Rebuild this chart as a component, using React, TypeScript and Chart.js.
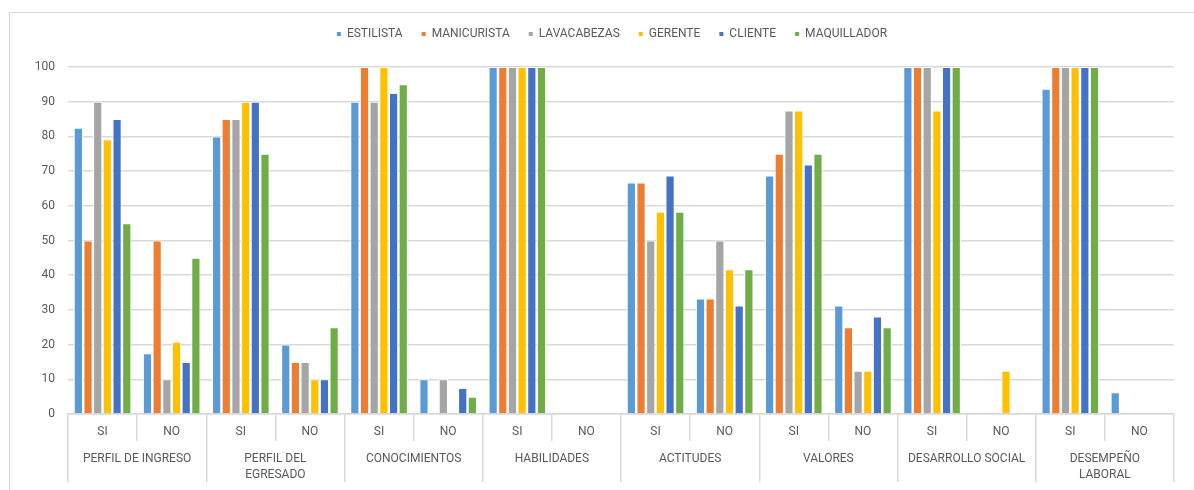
import React, { useEffect, useRef } from "react";
import { Chart, registerables } from "chart.js";

Chart.register(...registerables);

const groups: (string | string[])[] = [
  "PERFIL DE INGRESO",
  ["PERFIL DEL", "EGRESADO"],
  "CONOCIMIENTOS",
  "HABILIDADES",
  "ACTITUDES",
  "VALORES",
  "DESARROLLO SOCIAL",
  ["DESEMPEÑO", "LABORAL"],
];

const answers = ["SI", "NO", "SI", "NO", "SI", "NO", "SI", "NO", "SI", "NO", "SI", "NO", "SI", "NO", "SI", "NO"];

const yTicks = [0, 10, 20, 30, 40, 50, 60, 70, 80, 90, 100];

const seriesNames = ["ESTILISTA", "MANICURISTA", "LAVACABEZAS", "GERENTE", "CLIENTE", "MAQUILLADOR"];
const seriesColors = ["#5B9BD5", "#ED7D31", "#A5A5A5", "#FFC000", "#4472C4", "#70AD47"];

const estilista = [82.5, 17.5, 80, 20, 90, 10, 100, 0, 66.7, 33.3, 68.75, 31.25, 100, 0, 93.75, 6.25];
const manicurista = [50, 50, 85, 15, 100, 0, 100, 0, 66.7, 33.3, 75, 25, 100, 0, 100, 0];
const lavacabezas = [90, 10, 85, 15, 90, 10, 100, 0, 50, 50, 87.5, 12.5, 100, 0, 100, 0];
const gerente = [79.2, 20.8, 90, 10, 100, 0, 100, 0, 58.3, 41.7, 87.5, 12.5, 87.5, 12.5, 100, 0];
const cliente = [85, 15, 90, 10, 92.5, 7.5, 100, 0, 68.75, 31.25, 71.9, 28.1, 100, 0, 100, 0];
const maquillador = [55, 45, 75, 25, 95, 5, 100, 0, 58.3, 41.7, 75, 25, 100, 0, 100, 0];

const seriesValues = [estilista, manicurista, lavacabezas, gerente, cliente, maquillador];

const FONT = "Roboto, 'Open Sans', sans-serif";
const TEXT = "#595959";
const GRID = "#d9d9d9";

const legendSpacing = {
  id: "legendSpacing",
  beforeInit(chart: any) {
    const legend = chart.legend;
    if (!legend) return;
    const origFit = legend.fit;
    legend.fit = function () {
      origFit.call(this);
      this.height += 17;
    };
  },
  afterLayout(chart: any) {
    const legend = chart.legend;
    if (!legend) return;
    legend.left += 20;
    legend.right += 20;
  },
};

export default function App() {
  const ref = useRef<HTMLCanvasElement | null>(null);

  useEffect(() => {
    if (!ref.current) return;
    const chart = new Chart(ref.current, {
      type: "bar",
      data: {
        labels: answers,
        datasets: seriesNames.map((name, i) => ({
          label: name,
          data: seriesValues[i],
          backgroundColor: seriesColors[i],
          borderColor: "#ffffff",
          borderWidth: 1,
          xAxisID: "x",
          yAxisID: "y",
        })),
      },
      options: {
        animation: false,
        responsive: false,
        maintainAspectRatio: false,
        datasets: {
          bar: { categoryPercentage: 0.84, barPercentage: 0.95 },
        },
        layout: { padding: { left: 0, right: 20, top: 0, bottom: 8 } },
        plugins: {
          tooltip: { enabled: false },
          legend: {
            position: "top",
            labels: {
              boxWidth: 4,
              boxHeight: 4,
              padding: 19,
              color: TEXT,
              font: { family: FONT, size: 12 },
              generateLabels: (c: any) =>
                Chart.defaults.plugins.legend.labels
                  .generateLabels(c)
                  .map((l: any) => ({ ...l, strokeStyle: l.fillStyle, lineWidth: 0 })),
            },
          },
        },
        scales: {
          x: {
            type: "category",
            position: "bottom",
            weight: 1,
            offset: true,
            grid: {
              offset: true,
              drawOnChartArea: false,
              drawTicks: true,
              tickLength: 27,
              color: GRID,
              lineWidth: 1.5,
            },
            border: { display: true, color: GRID, width: 1.5 },
            ticks: {
              autoSkip: false,
              maxRotation: 0,
              padding: -17,
              color: TEXT,
              font: { family: FONT, size: 12, lineHeight: 16 / 12 },
            },
            afterFit: (s: any) => {
              s.height = 27;
            },
          },
          x2: {
            type: "category",
            position: "bottom",
            weight: 2,
            labels: groups as any,
            offset: true,
            grid: {
              offset: true,
              drawOnChartArea: false,
              drawTicks: true,
              tickLength: 41,
              color: GRID,
              lineWidth: 1.5,
            },
            border: { display: false },
            ticks: {
              autoSkip: false,
              maxRotation: 0,
              padding: -31,
              color: TEXT,
              font: { family: FONT, size: 12, lineHeight: 16 / 12 },
            },
            afterFit: (s: any) => {
              s.height = 41;
            },
          },
          y: {
            type: "linear",
            min: 0,
            max: 100,
            afterBuildTicks: (s: any) => {
              s.ticks = yTicks.map((v) => ({ value: v }));
            },
            grid: { drawTicks: false, color: GRID, lineWidth: 1.5 },
            border: { display: false },
            ticks: {
              padding: 13,
              color: TEXT,
              font: { family: FONT, size: 12 },
            },
            afterFit: (s: any) => {
              s.width = 58;
            },
          },
        },
      } as any,
      plugins: [legendSpacing],
    });
    return () => chart.destroy();
  }, []);

  return (
    <div>
      <div
        style={{
          position: "absolute",
          left: 9,
          top: 12,
          width: 1185,
          height: 478,
          borderTop: "1px solid #d9d9d9",
          borderLeft: "1px solid #d9d9d9",
          boxSizing: "border-box",
        }}
      />
      <canvas
        ref={ref}
        width={1184}
        height={481}
        style={{ position: "absolute", left: 10, top: 9, width: 1184, height: 481 }}
      />
    </div>
  );
}
